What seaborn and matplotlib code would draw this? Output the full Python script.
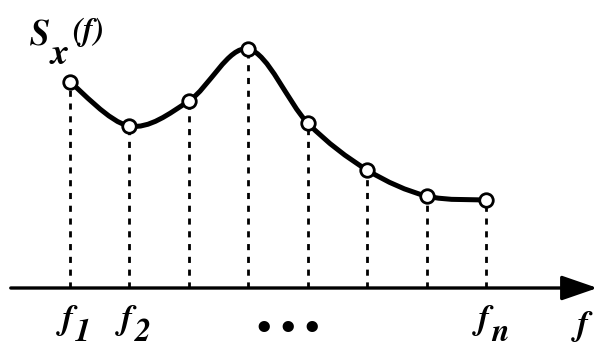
import matplotlib
matplotlib.use("Agg")
import matplotlib.pyplot as plt
from matplotlib.path import Path
from matplotlib.patches import PathPatch
import seaborn as sns
import pandas as pd

# ---- data ----
freq_index = [1, 2, 3, 4, 5, 6, 7, 8]
spectral_density = [4.12, 3.24, 3.74, 4.78, 3.30, 2.36, 1.84, 1.76]
tick_labels = {1: "1", 2: "2", 8: "n"}
ylabel_main = "S"
ylabel_sub = "x"
ylabel_arg = "(f)"
xlabel = "f"

sns.set_style("white")
SERIF = ["STIXGeneral", "Liberation Serif", "DejaVu Serif"]
plt.rcParams["font.family"] = SERIF

fig = plt.figure(figsize=(5.98, 3.49), dpi=100)
ax = fig.add_axes([0, 0, 1, 1])
ax.set_xlim(-0.178, 9.884)
ax.set_ylim(-1.22, 5.76)
ax.set_axis_off()

df = pd.DataFrame({"f": freq_index, "S": spectral_density})

# dotted drop lines
ax.vlines(df["f"], 0, df["S"], colors="black", linewidth=2.0,
          linestyles=(0, (2.2, 2.4)), zorder=1)

# smooth curve through the points (Catmull-Rom drawn as Bezier path in data coords)
pts = list(zip(df["f"], df["S"]))
ext = [pts[0]] + pts + [pts[-1]]
verts = [pts[0]]
codes = [Path.MOVETO]
for i in range(1, len(ext) - 2):
    p0, p1, p2, p3 = ext[i - 1], ext[i], ext[i + 1], ext[i + 2]
    c1 = (p1[0] + (p2[0] - p0[0]) / 6, p1[1] + (p2[1] - p0[1]) / 6)
    c2 = (p2[0] - (p3[0] - p1[0]) / 6, p2[1] - (p3[1] - p1[1]) / 6)
    verts += [c1, c2, p2]
    codes += [Path.CURVE4] * 3
ax.add_patch(PathPatch(Path(verts, codes), facecolor="none", edgecolor="black",
                       linewidth=3.6, capstyle="round", joinstyle="round", zorder=2))

# open markers
sns.scatterplot(data=df, x="f", y="S", ax=ax, s=95, color="white",
                edgecolor="black", linewidth=2.0, zorder=3)

# horizontal axis arrow
ax.annotate("", xy=(0.999, 0), xytext=(0.018, 0),
            xycoords=("axes fraction", "data"), textcoords=("axes fraction", "data"),
            arrowprops=dict(arrowstyle="-|>,head_length=1.1,head_width=0.38",
                            mutation_scale=20, lw=2.4, color="black",
                            shrinkA=0, shrinkB=0), zorder=2)

font_kw = dict(family=SERIF, fontstyle="italic", fontweight="bold", color="black")

# tick labels f_1, f_2, f_n
for xi, sub in tick_labels.items():
    ax.annotate("f", xy=(xi, 0), xytext=(3, -41), textcoords="offset pixels",
                ha="right", va="baseline", fontsize=25, **font_kw)
    ax.annotate(sub, xy=(xi, 0), xytext=(5, -53), textcoords="offset pixels",
                ha="left", va="baseline", fontsize=23, **font_kw)

# ellipsis (three dots between the middle frequencies)
for dx in (-24, 0, 24):
    ax.annotate("\u2022", xy=(4.66, 0), xytext=(dx, -42),
                textcoords="offset pixels", ha="center", va="center",
                fontsize=23, fontweight="bold", color="black",
                family=["DejaVu Sans"])

# axis label f
ax.annotate(xlabel, xy=(0.975, 0), xytext=(0, -47),
            xycoords=("axes fraction", "data"), textcoords="offset pixels",
            ha="center", va="baseline", fontsize=25, **font_kw)

# y label S_x(f)
ax.text(30 / 598, 1 - 45 / 349, ylabel_main, transform=ax.transAxes,
        ha="left", va="baseline", fontsize=26, **font_kw)
ax.text(51 / 598, 1 - 64 / 349, ylabel_sub, transform=ax.transAxes,
        ha="left", va="baseline", fontsize=26, **font_kw)
ax.text(72 / 598, 1 - 40 / 349, ylabel_arg, transform=ax.transAxes,
        ha="left", va="baseline", fontsize=23, **font_kw)

fig.savefig("out.png", dpi=100)
